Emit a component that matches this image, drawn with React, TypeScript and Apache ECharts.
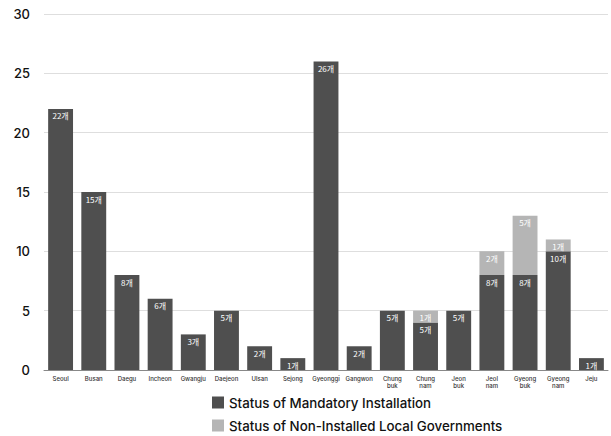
import React, { useEffect, useRef } from "react";
import * as echarts from "echarts";

const categories = [
  "Seoul", "Busan", "Daegu", "Incheon", "Gwangju", "Daejeon", "Ulsan", "Sejong",
  "Gyeonggi", "Gangwon", "Chung\nbuk", "Chung\nnam", "Jeon\nbuk", "Jeol\nnam",
  "Gyeong\nbuk", "Gyeong\nnam", "Jeju",
];
const mandatory = [22, 15, 8, 6, 3, 5, 2, 1, 26, 2, 5, 4, 5, 8, 8, 10, 1];
const mandatoryLabels = ["22개", "15개", "8개", "6개", "3개", "5개", "2개", "1개", "26개", "2개", "5개", "5개", "5개", "8개", "8개", "10개", "1개"];
const nonInstalled = [0, 0, 0, 0, 0, 0, 0, 0, 0, 0, 0, 1, 0, 2, 5, 1, 0];
const nonInstalledLabels = ["", "", "", "", "", "", "", "", "", "", "", "1개", "", "2개", "5개", "1개", ""];
const yTicks = { min: 0, max: 30, interval: 5 };
const seriesNames = ["Status of Mandatory Installation", "Status of Non-Installed Local Governments"];

export default function App() {
  const ref = useRef<HTMLDivElement>(null);
  useEffect(() => {
    const chart = echarts.init(ref.current!, null, { renderer: "svg" });
    const labelStyle = {
      show: true,
      position: "insideTop",
      color: "#ffffff",
      fontSize: 8,
      distance: 3,
      fontFamily: "Noto Sans CJK KR",
    };
    const legendBase = {
      orient: "vertical",
      left: 212,
      padding: 0,
      itemWidth: 12,
      itemHeight: 12,
      icon: "rect",
      textStyle: { fontSize: 13.3, color: "#111", fontFamily: "Inter", fontWeight: 500 },
    };
    chart.setOption({
      animation: false,
      grid: { left: 44, right: 3, top: 14, bottom: 66 },
      legend: [
        { ...legendBase, top: 396, data: [seriesNames[0]] },
        { ...legendBase, top: 419, data: [seriesNames[1]] },
      ],
      xAxis: {
        type: "category",
        data: categories,
        axisTick: { show: false },
        axisLine: { lineStyle: { color: "#888", width: 1 } },
        axisLabel: { fontSize: 6, color: "#333", margin: 5, lineHeight: 7, interval: 0, fontFamily: "Inter", fontWeight: 500 },
      },
      yAxis: {
        type: "value",
        min: yTicks.min,
        max: yTicks.max,
        interval: yTicks.interval,
        splitLine: { lineStyle: { color: "#dedede", width: 1 } },
        axisLabel: { fontSize: 13, color: "#111", margin: 14, fontFamily: "Inter", fontWeight: 500 },
      },
      series: [
        {
          name: seriesNames[0],
          type: "bar",
          stack: "total",
          barWidth: "75%",
          data: mandatory,
          itemStyle: { color: "#4f4f4f" },
          label: { ...labelStyle, formatter: (p: any) => mandatoryLabels[p.dataIndex] },
        },
        {
          name: seriesNames[1],
          type: "bar",
          stack: "total",
          barWidth: "75%",
          data: nonInstalled,
          itemStyle: { color: "#b5b5b5" },
          label: { ...labelStyle, formatter: (p: any) => nonInstalledLabels[p.dataIndex] },
        },
      ],
    });
    return () => chart.dispose();
  }, []);
  return <div ref={ref} style={{ width: 611, height: 436, position: "absolute", left: 0, top: 0 }} />;
}
